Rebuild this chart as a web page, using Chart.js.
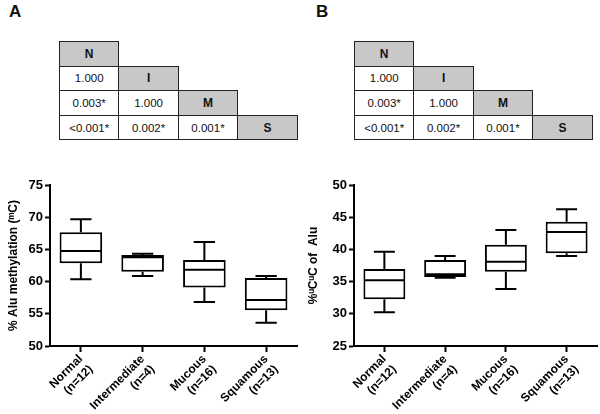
<!DOCTYPE html>
<html>
<head>
<meta charset="utf-8">
<script src="https://cdn.jsdelivr.net/npm/chart.js@4.4.0/dist/chart.umd.min.js"></script>
<style>
  body { margin: 0; background: #fff; }
  #page { position: relative; width: 600px; height: 414px; overflow: hidden; font-family: 'Liberation Sans', Arial, sans-serif; }
  .panel { position: absolute; font-weight: bold; font-size: 17px; color: #111; }
  .cell { position: absolute; box-sizing: border-box; border: 1px solid #222; font-size: 11.5px; color: #111;
          display: flex; align-items: center; justify-content: center; background: #fff; }
  .cell.head { background: #c8c8c8; font-weight: bold; font-size: 12px; }
  canvas { position: absolute; }
</style>
</head>
<body>
<div id="page">
  <div class="panel" style="left:9px; top:2px;">A</div>
  <div class="panel" style="left:316px; top:2px;">B</div>
  <div id="tableA"></div>
  <div id="tableB"></div>
  <canvas id="chartA" width="300" height="244" style="left:0; top:170px;"></canvas>
  <canvas id="chartB" width="300" height="244" style="left:300px; top:170px;"></canvas>
</div>
<script>
// pairwise p-values (same in both panels)
const groupHeads = ['N', 'I', 'M', 'S'];
const pRows = [
  [],
  ['1.000'],
  ['0.003*', '1.000'],
  ['<0.001*', '0.002*', '0.001*']
];

const groups = [['Normal', '(n=12)'], ['Intermediate', '(n=4)'], ['Mucous', '(n=16)'], ['Squamous', '(n=13)']];

// panel A: % Alu methylation
const methylMin = [60.35, 60.87, 56.83, 53.62];
const methylQ1 = [62.83, 61.54, 59.10, 55.54];
const methylMedian = [64.75, 63.77, 61.85, 57.14];
const methylQ3 = [67.65, 64.13, 63.35, 60.56];
const methylMax = [69.67, 64.33, 66.15, 60.87];
const methylTicks = [50, 55, 60, 65, 70, 75];

// panel B: % uCuC of Alu
const uncMin = [30.23, 35.60, 33.85, 38.97];
const uncQ1 = [32.25, 35.71, 36.54, 39.39];
const uncMedian = [35.20, 36.13, 38.09, 42.70];
const uncQ3 = [36.96, 38.35, 40.73, 44.30];
const uncMax = [39.65, 38.97, 43.00, 46.22];
const uncTicks = [25, 30, 35, 40, 45, 50];

function buildTable(id, left, top, colW, rowH) {
  const holder = document.getElementById(id);
  for (let r = 0; r < groupHeads.length; r++) {
    for (let c = 0; c <= r; c++) {
      const div = document.createElement('div');
      div.className = 'cell' + (c === r ? ' head' : '');
      div.textContent = c === r ? groupHeads[r] : pRows[r][c];
      div.style.left = (left + c * colW) + 'px';
      div.style.top = (top + r * rowH) + 'px';
      div.style.width = (colW + 1) + 'px';
      div.style.height = (rowH + 1) + 'px';
      holder.appendChild(div);
    }
  }
}

buildTable('tableA', 59, 41, 59.4, 24.6);
buildTable('tableB', 354, 41, 59.4, 24.6);

// whiskers + median drawn with the chart scales
const whiskerPlugin = {
  id: 'whiskers',
  afterDatasetsDraw(chart) {
    const stats = chart.options.plugins.whiskers;
    const yScale = chart.scales.y;
    const ctx = chart.ctx;
    const meta = chart.getDatasetMeta(0);
    ctx.save();
    ctx.strokeStyle = '#000';
    ctx.lineWidth = 2;
    meta.data.forEach((bar, i) => {
      const x = bar.x;
      const half = bar.width / 2;
      const yMin = yScale.getPixelForValue(stats.min[i]);
      const yQ1 = yScale.getPixelForValue(stats.q1[i]);
      const yMed = yScale.getPixelForValue(stats.median[i]);
      const yQ3 = yScale.getPixelForValue(stats.q3[i]);
      const yMax = yScale.getPixelForValue(stats.max[i]);
      ctx.beginPath();
      ctx.moveTo(x - half + 1, yMed); ctx.lineTo(x + half - 1, yMed);
      ctx.moveTo(x, yQ3); ctx.lineTo(x, yMax);
      ctx.moveTo(x - half / 2, yMax); ctx.lineTo(x + half / 2, yMax);
      ctx.moveTo(x, yQ1); ctx.lineTo(x, yMin);
      ctx.moveTo(x - half / 2, yMin); ctx.lineTo(x + half / 2, yMin);
      ctx.stroke();
    });
    ctx.restore();
  }
};

function makeBoxChart(canvasId, q1, q3, stats, ticks, title, axisWidth) {
  const tickFont = { family: "Arial, 'Liberation Sans', sans-serif", weight: 'bold', size: 13 };
  const labelFont = { family: "Arial, 'Liberation Sans', sans-serif", weight: 'bold', size: 12 };
  return new Chart(document.getElementById(canvasId), {
    type: 'bar',
    data: {
      labels: groups,
      datasets: [{
        data: q1.map((v, i) => [v, q3[i]]),
        backgroundColor: '#fff',
        borderColor: '#000',
        borderWidth: 2,
        borderSkipped: false,
        categoryPercentage: 1,
        barPercentage: 0.69
      }]
    },
    options: {
      responsive: false,
      animation: false,
      layout: { padding: { top: 15, right: 3, left: 0, bottom: 0 } },
      plugins: {
        legend: { display: false },
        tooltip: { enabled: false },
        whiskers: stats
      },
      scales: {
        x: {
          offset: true,
          border: { color: '#000', width: 2 },
          grid: { drawOnChartArea: false, offset: false, tickLength: 6, tickWidth: 2, tickColor: '#000' },
          ticks: { color: '#000', font: labelFont, maxRotation: 45, minRotation: 45, padding: 0 },
          afterFit: s => { s.height = 68; }
        },
        y: {
          min: ticks[0],
          max: ticks[ticks.length - 1],
          border: { color: '#000', width: 2 },
          grid: { drawOnChartArea: false, tickLength: 5, tickWidth: 2, tickColor: '#000' },
          ticks: { color: '#000', font: tickFont, stepSize: 5, padding: 2 },
          title: { display: true, text: title, color: '#000', font: labelFont, padding: { top: 6, bottom: 0 } },
          afterFit: s => { s.width = axisWidth; }
        }
      }
    },
    plugins: [whiskerPlugin]
  });
}

makeBoxChart('chartA', methylQ1, methylQ3,
  { min: methylMin, q1: methylQ1, median: methylMedian, q3: methylQ3, max: methylMax },
  methylTicks, '% Alu methylation (ᵐC)', 50);

makeBoxChart('chartB', uncQ1, uncQ3,
  { min: uncMin, q1: uncQ1, median: uncMedian, q3: uncQ3, max: uncMax },
  uncTicks, '%ᵘCᵘC of  Alu', 54);
</script>
</body>
</html>
